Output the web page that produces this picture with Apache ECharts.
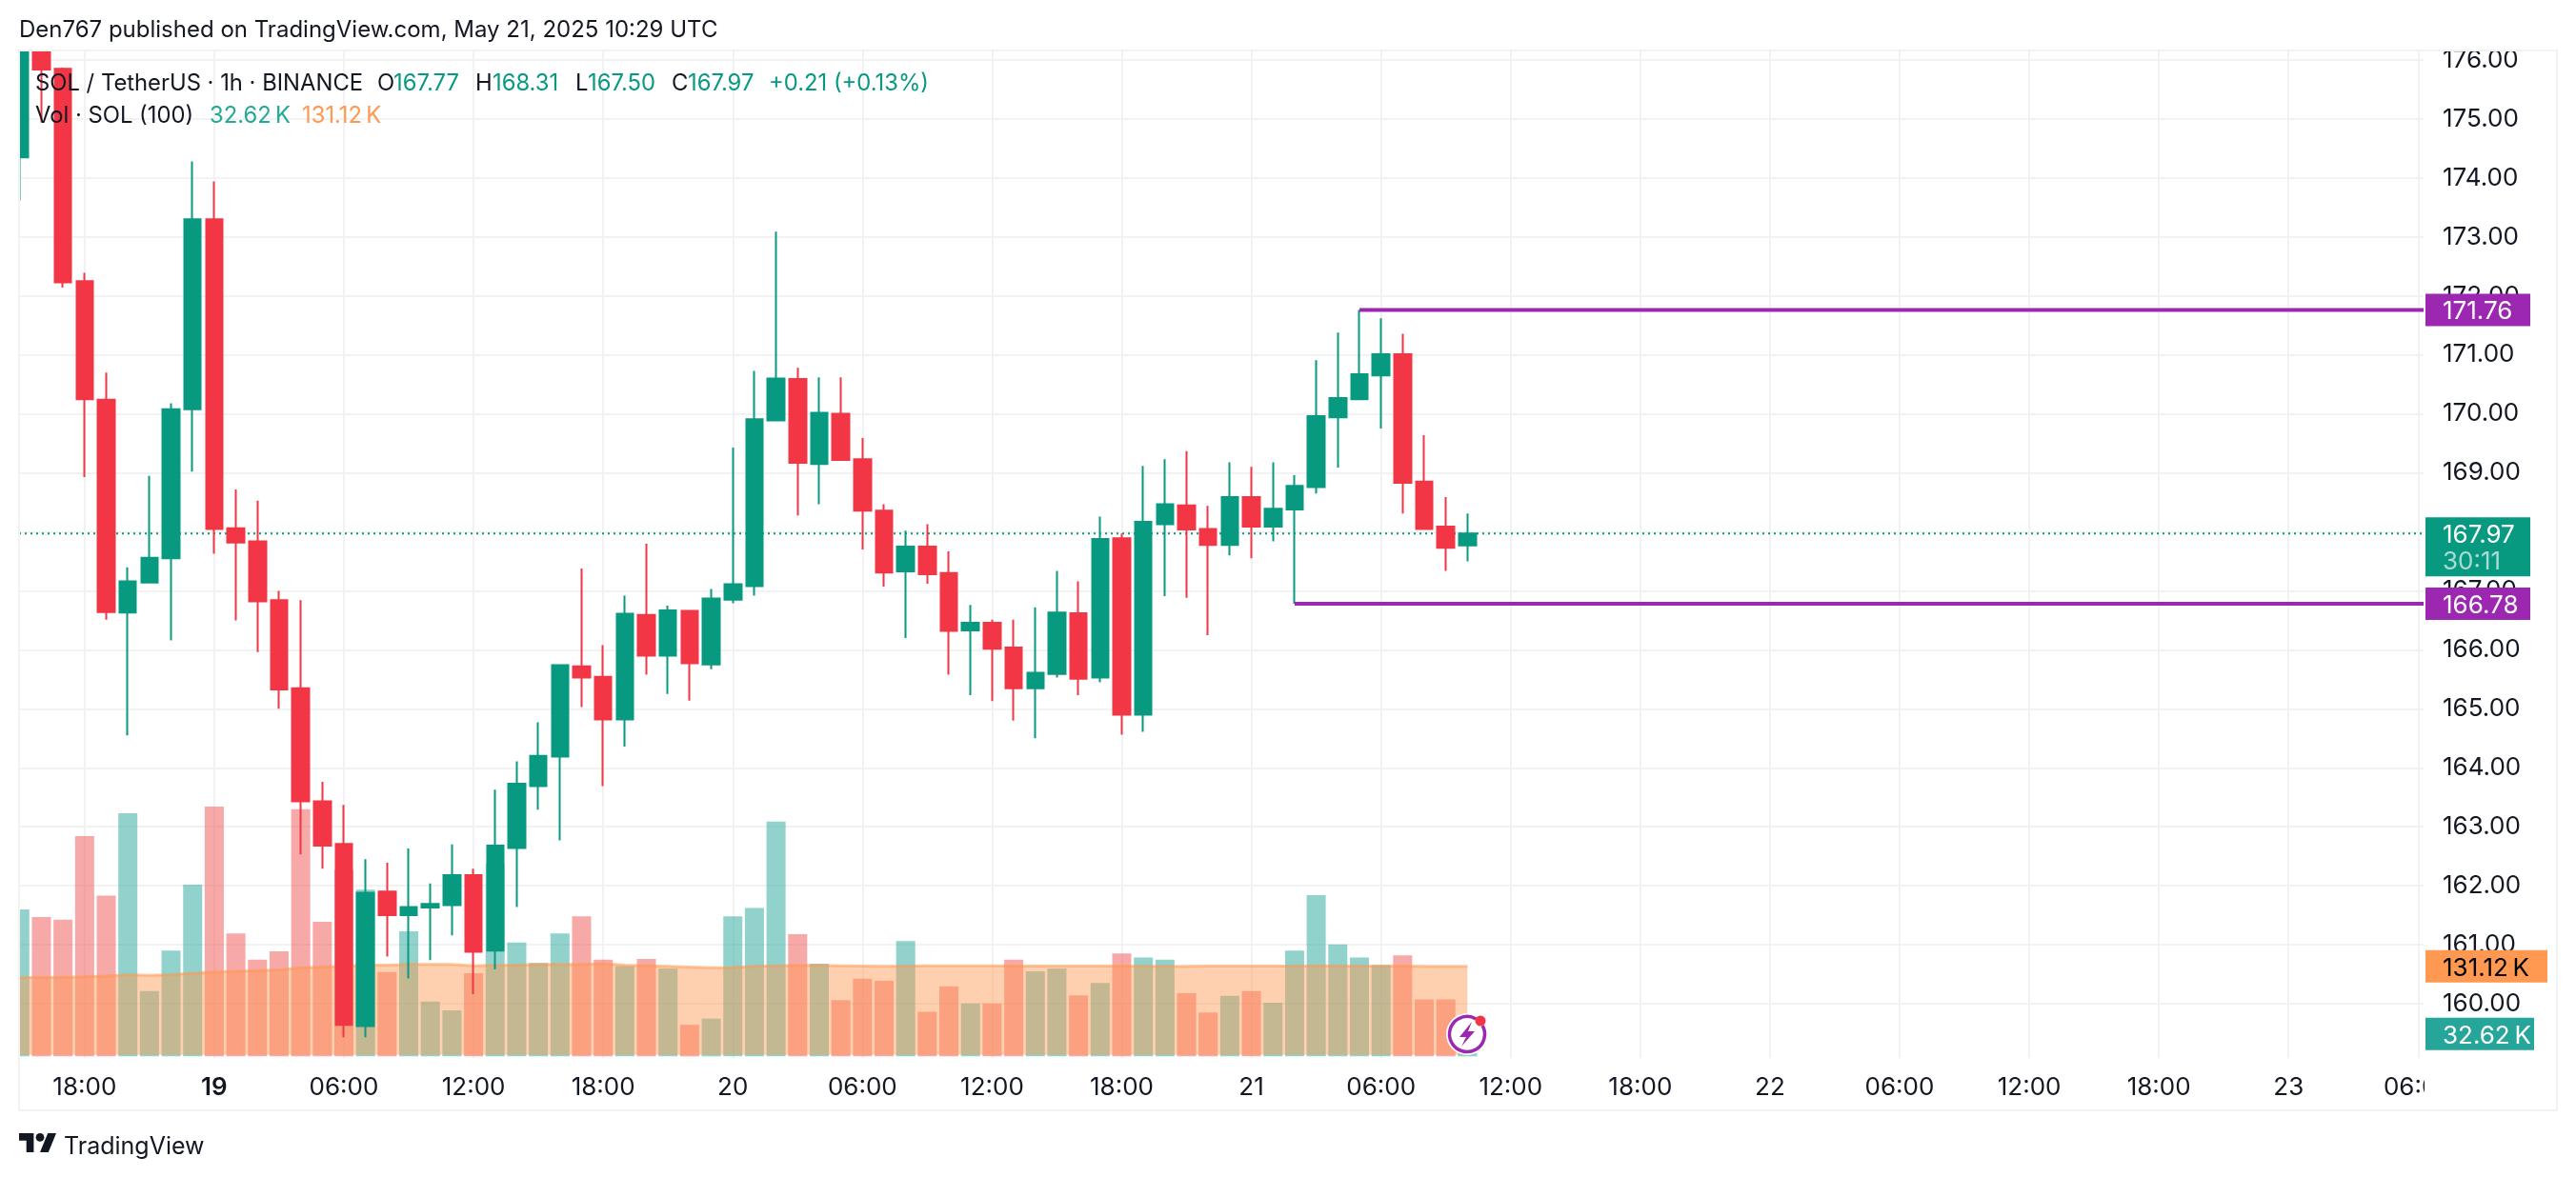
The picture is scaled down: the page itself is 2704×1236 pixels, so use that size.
<!DOCTYPE html>
<html>
<head>
<meta charset="utf-8">
<style>html,body{margin:0;padding:0;background:#fff}#c{width:2704px;height:1236px}</style>
<script src="https://cdn.jsdelivr.net/npm/echarts@6/dist/echarts.min.js"></script>
</head>
<body>
<div id="c"></div>
<script>
// Hourly bars: index 0 = May 18 15:00 UTC, index 67 = May 21 10:00 UTC
const opens = [174.35,177.40,175.85,172.25,170.24,166.63,167.14,167.55,170.08,173.30,168.06,167.84,166.84,165.35,163.43,162.71,159.62,161.90,161.50,161.63,161.67,162.18,160.90,162.64,163.69,164.19,165.72,165.54,164.82,166.59,165.90,166.66,165.75,166.85,167.08,169.89,170.59,169.15,170.00,169.23,168.36,167.33,167.75,167.30,166.33,166.46,166.04,165.35,165.59,166.62,165.53,167.89,164.90,168.13,168.45,168.05,167.78,168.59,168.09,168.38,168.76,169.94,170.25,170.65,171.01,168.85,168.09,167.77];
const closes = [177.40,175.84,172.23,170.25,166.64,167.16,167.56,170.08,173.30,168.05,167.82,166.82,165.33,163.43,162.68,159.64,161.88,161.50,161.64,161.69,162.18,160.88,162.68,163.73,164.20,165.74,165.53,164.82,166.61,165.90,166.67,165.77,166.87,167.11,169.91,170.60,169.17,170.02,169.22,168.36,167.31,167.75,167.28,166.32,166.46,166.02,165.35,165.61,166.63,165.51,167.88,164.90,168.17,168.47,168.04,167.78,168.59,168.09,168.39,168.78,169.96,170.27,170.67,171.01,168.83,168.05,167.73,167.97];
const lows = [173.62,174.94,172.14,168.93,166.51,164.55,167.14,166.16,169.02,167.63,166.50,165.96,165.00,162.53,162.29,159.43,159.43,160.80,160.43,160.74,161.16,160.16,160.58,161.64,163.29,162.77,165.03,163.69,164.36,165.58,165.25,165.14,165.67,166.79,166.92,169.89,168.28,168.47,169.22,167.70,167.07,166.20,167.12,165.58,165.23,165.13,164.80,164.50,165.53,165.23,165.45,164.56,164.61,166.91,166.88,166.25,167.60,167.55,167.84,166.78,168.65,169.09,170.23,169.75,168.31,168.05,167.34,167.50];
const highs = [177.90,177.60,175.87,172.39,170.70,167.40,168.95,170.18,174.28,173.94,168.72,168.53,167.00,166.84,163.76,163.37,162.45,162.39,162.63,162.04,162.70,162.29,163.63,164.11,164.77,165.75,167.38,166.08,166.92,167.80,166.75,166.66,167.03,169.43,170.73,173.09,170.78,170.62,170.62,169.59,168.47,168.02,168.13,167.67,166.76,166.51,166.51,166.72,167.34,167.16,168.26,167.97,169.12,169.23,169.37,168.44,169.18,169.10,169.18,168.96,170.91,171.38,171.76,171.62,171.36,169.64,168.59,168.31];
const volumes = [214,203,199,321,234,354,95,154,250,364,179,141,153,360,196,272,243,123,182,80,67,121,281,166,136,179,204,141,131,142,128,46,55,204,216,342,178,135,82,113,110,168,65,102,77,77,141,124,128,89,107,150,144,141,92,64,88,95,78,154,235,163,144,133,147,83,83,32.62];
const volumeMA = [115,115,115,116,117,119,118,119,121,123,124,125,126,129,130,131,133,133,134,134,134,132,133,133,134,134,134,135,133,132,131,130,129,129.5,131,132,132.5,132.5,132,131.5,131,131.5,132,132,132,132,131.5,131.5,131.5,131.5,131.5,131.5,131,131,131,131.5,131.5,131.5,131.5,131.5,132,132,131.5,131.5,131.5,131.3,131.2,131.12];
const priceTicks = [160,161,162,163,164,165,166,167,168,169,170,171,172,173,174,175,176];
const timeTickHours = [3,9,15,21,27,33,39,45,51,57,63,69,75,81,87,93,99,105,111];
const timeTickLabels = ['18:00','19','06:00','12:00','18:00','20','06:00','12:00','18:00','21','06:00','12:00','18:00','22','06:00','12:00','18:00','23','06:00'];
const resistance = 171.76, resistanceFrom = 62;
const support = 166.78, supportFrom = 59;
const lastPrice = 167.97, countdown = '30:11';
const lastVolume = 32.62, lastMA = 131.12;

const GREEN='#089981', RED='#F23645', PURPLE='#9C27B0', TEXT='#131722', GRID='#f2f2f2', ORANGE='#FF9850', TEAL='#26A69A';
const FONT='Inter';
const X_MIN=-0.035, X_MAX=111.25;

const candleData = opens.map((o,i)=>[i,o,closes[i],lows[i],highs[i]]);
const volData = volumes.map((v,i)=>({value:[i,v],itemStyle:{color:closes[i]>=opens[i]?'rgba(38,166,154,0.5)':'rgba(239,83,80,0.5)'}}));
const maData = volumeMA.map((v,i)=>[i,v]);

function tag(value,yAxisIndex,w,h,bg,fg,text,dy){
  return {type:'scatter',yAxisIndex,clip:false,silent:true,z:20,animation:false,
    data:[[X_MAX,value]],symbol:'rect',symbolSize:[w,h],symbolOffset:[w/2+2,dy||0],
    itemStyle:{color:bg,opacity:1},
    label:{show:true,position:'inside',formatter:text,color:fg,fontFamily:FONT,fontSize:26,align:'left',
      offset:[-w/2+18,2],lineHeight:28,
      rich:{t:{color:'rgba(255,255,255,0.65)',fontFamily:FONT,fontSize:26,lineHeight:28}}}};
}
function t(x,y,text,fill,size,weight){
  return {type:'text',x,y,z:100,silent:true,style:{text,fill:fill||TEXT,font:(weight||400)+' '+(size||23.8)+'px '+FONT,textVerticalAlign:'middle',textAlign:'left'}};
}

const option={
  animation:false,
  backgroundColor:'#fff',
  textStyle:{fontFamily:FONT},
  title:{text:'Den767 published on TradingView.com, May 21, 2025 10:29 UTC',left:20,top:16,padding:0,z:95,
    textStyle:{fontFamily:FONT,fontSize:24,fontWeight:400,color:TEXT,lineHeight:32}},
  grid:{left:20,top:54,width:2524,height:1057,containLabel:false},
  xAxis:{type:'value',min:X_MIN,max:X_MAX,scale:true,
    axisLine:{show:false},axisTick:{show:false,customValues:timeTickHours},
    splitLine:{show:true,customValues:timeTickHours,lineStyle:{color:GRID,width:2}},
    axisLabel:{customValues:timeTickHours,margin:18,fontFamily:FONT,fontSize:26,color:TEXT,
      formatter:v=>{const s=timeTickLabels[timeTickHours.indexOf(v)];return s==='19'?'{b|19}':s;},
      rich:{b:{fontFamily:FONT,fontSize:26,fontWeight:600,color:TEXT}}}},
  yAxis:[
    {type:'value',position:'right',min:159.08,max:176.145,scale:true,
     axisLine:{show:false},axisTick:{show:false,customValues:priceTicks},
     splitLine:{show:true,customValues:priceTicks,lineStyle:{color:GRID,width:2}},
     axisLabel:{customValues:priceTicks,margin:20,fontFamily:FONT,fontSize:26,color:TEXT,formatter:v=>v.toFixed(2)}},
    {type:'value',position:'right',min:-2.36,max:1464,show:false,splitLine:{show:false}}
  ],
  series:[
    {type:'bar',name:'Vol',yAxisIndex:1,data:volData,barWidth:20,z:2,silent:true},
    {type:'line',name:'Vol MA',yAxisIndex:1,data:maData,symbol:'none',z:3,silent:true,
     lineStyle:{color:'rgba(255,152,80,0.55)',width:3},areaStyle:{color:'rgb(255,152,80)',opacity:0.46,origin:2}},
    {type:'line',name:'Last',data:[[X_MIN,lastPrice],[X_MAX,lastPrice]],symbol:'none',z:4,silent:true,
     lineStyle:{color:GREEN,width:2,type:[2,4]}},
    {type:'candlestick',name:'SOL / TetherUS',data:candleData,encode:{x:0,y:[1,2,3,4]},barWidth:18,z:5,silent:true,
     itemStyle:{color:GREEN,color0:RED,borderColor:GREEN,borderColor0:RED,borderWidth:2}},
    {type:'line',name:'High',data:[[resistanceFrom,resistance],[X_MAX,resistance]],symbol:'none',z:6,silent:true,
     lineStyle:{color:PURPLE,width:4}},
    {type:'line',name:'Low',data:[[supportFrom,support],[X_MAX,support]],symbol:'none',z:6,silent:true,
     lineStyle:{color:PURPLE,width:4}},
    tag(resistance,0,110,34,PURPLE,'#fff',resistance.toFixed(2)),
    tag(support,0,110,34,PURPLE,'#fff',support.toFixed(2)),
    tag(lastPrice,0,110,62,GREEN,'#fff',lastPrice.toFixed(2)+'\n{t|'+countdown+'}',14),
    tag(lastMA,1,128,34,ORANGE,'#000','131.12\u2009K'),
    tag(lastVolume,1,114,34,TEAL,'#fff','32.62\u2009K')
  ],
  graphic:[
    {type:'rect',z:89,silent:true,shape:{x:0,y:0,width:2704,height:53},style:{fill:'#fff'}},
    {type:'rect',z:89,silent:true,shape:{x:0,y:0,width:20,height:1200},style:{fill:'#fff'}},
    {type:'rect',z:90,silent:true,shape:{x:2545,y:1113,width:137,height:51},style:{fill:'#fff'}},
    {type:'rect',z:91,silent:true,shape:{x:20,y:53,width:2664,height:1113},style:{fill:'none',stroke:GRID,lineWidth:2}},
    t(37,88,'SOL / TetherUS · 1h · BINANCE'),
    t(396,88,'O'),t(413,88,'167.77',GREEN),
    t(499,88,'H'),t(517,88,'168.31',GREEN),
    t(604,88,'L'),t(617,88,'167.50',GREEN),
    t(705,88,'C'),t(722,88,'167.97',GREEN),
    t(807,88,'+0.21 (+0.13%)',GREEN),
    t(37,122,'Vol · SOL (100)'),
    t(220,122,'32.62\u2009K','#22AB94'),
    t(317,122,'131.12\u2009K',ORANGE),
    {type:'polygon',z:100,silent:true,shape:{points:[[20,1190],[35.4,1190],[35.4,1210],[27.7,1210],[27.7,1197.7],[20,1197.7]]},style:{fill:'#131722'}},
    {type:'polygon',z:100,silent:true,shape:{points:[[50.2,1190],[59,1190],[50.8,1210],[42,1210]]},style:{fill:'#131722'}},
    {type:'circle',z:100,silent:true,shape:{cx:42,cy:1194.4,r:4.4},style:{fill:'#131722'}},
    t(67,1204,'TradingView','#131722',25,400),
    {type:'circle',z:100,silent:true,shape:{cx:1540,cy:1086,r:22},style:{fill:'#fff'}},
    {type:'arc',z:101,silent:true,shape:{cx:1540,cy:1086,r:18.5,startAngle:-0.5,endAngle:-1.05,clockwise:true},style:{fill:'none',stroke:PURPLE,lineWidth:3.5}},
    {type:'polygon',z:102,silent:true,shape:{points:[[1545,1073],[1532,1089],[1539,1089],[1534,1099],[1548,1083],[1541,1083]]},style:{fill:PURPLE}},
    {type:'circle',z:103,silent:true,shape:{cx:1554,cy:1072,r:5.5},style:{fill:RED}}
  ]
};
echarts.init(document.getElementById('c')).setOption(option);
</script>
</body>
</html>
